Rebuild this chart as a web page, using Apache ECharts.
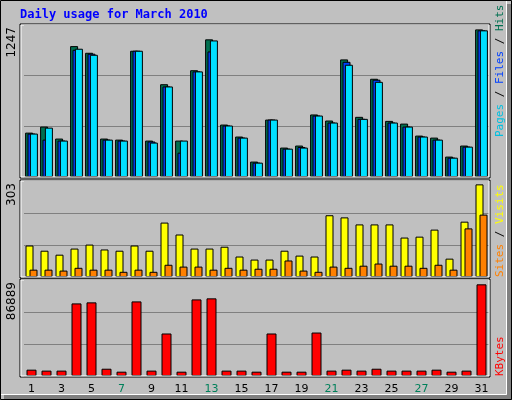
<!DOCTYPE html><html><head><meta charset="utf-8"><script src="https://cdn.jsdelivr.net/npm/echarts@6/dist/echarts.min.js"></script>
<style>html,body{margin:0;padding:0;background:#c0c0c0}#c{width:512px;height:400px}</style></head><body><div id="c"></div><script>
const days=['1','2','3','4','5','6','7','8','9','10','11','12','13','14','15','16','17','18','19','20','21','22','23','24','25','26','27','28','29','30','31'];
const weekend=['6','7','13','14','20','21','27','28'];
const hits=[374,425,324,1103,1047,324,315,1064,307,782,307,900,1160,442,341,130,484,248,265,527,476,991,507,828,473,450,349,332,172,265,1244];
const files=[366,315,307,1072,1039,315,307,1064,299,763,205,890,1058,434,332,121,484,239,253,518,459,971,490,820,459,425,341,315,163,256,1236];
const pages=[366,416,307,1081,1030,315,307,1064,290,763,307,890,1151,434,332,121,484,239,248,518,459,946,490,802,459,425,341,315,163,256,1236];
const visits=[103,86,73,93,106,90,86,103,86,178,139,93,93,99,67,57,57,86,70,67,202,195,172,172,172,129,132,155,60,181,303];
const sites=[24,24,21,30,24,24,17,24,17,40,34,34,24,30,24,27,27,54,21,17,34,30,37,44,37,37,30,40,24,159,204];
const kbytes=[6000,5100,5100,68800,69800,6900,4100,70700,5100,40300,4100,72600,73600,5100,5100,4100,40300,4100,4100,41200,5100,6000,5100,6900,5100,5100,5100,6000,4100,5100,86889];
const topMax=[1247,303,86889];
const M1=1281,M2=314,M3=91000;
const ch=echarts.init(document.getElementById('c'));
const G=[{top:25,h:152},{top:181,h:96},{top:280,h:96}];
const grids=G.map(g=>({left:24,width:465,top:g.top,height:g.h}));
const xAxes=G.map((g,i)=>({type:'category',data:days,gridIndex:i,axisLine:{show:false},axisTick:{show:false},
 axisLabel:{show:i===2,margin:8,fontFamily:'DejaVu Sans',fontSize:11,color:(v)=>weekend.includes(v)?'#00805a':'#000'}}));
const yAxes=[M1,M2,M3].map((m,i)=>({type:'value',gridIndex:i,min:0,max:m,interval:m/3,axisLabel:{show:false},axisLine:{show:false},axisTick:{show:false},splitLine:{lineStyle:{color:'#808080',width:1}}}));
const bs=(d,c,xi,w,gap,z)=>({type:'bar',data:d,xAxisIndex:xi,yAxisIndex:xi,barWidth:w,barGap:gap,itemStyle:{color:c,borderColor:'#000',borderWidth:1},z:z,animation:false,silent:true});
const frames=G.map(g=>({type:'rect',shape:{x:20,y:g.top-1,width:470,height:g.h+2},style:{fill:'none',stroke:'#000',lineWidth:1},z:10}));
const frames2=G.map(g=>({type:'rect',shape:{x:21,y:g.top,width:468,height:g.h},style:{fill:'none',stroke:'#fff',lineWidth:1},z:10}));
const vt=(x,y,t,c)=>({type:'text',x:x,y:y,rotation:Math.PI/2,style:{text:t,fill:c,font:'12px DejaVu Sans',align:'right',verticalAlign:'middle'},z:11});
ch.setOption({backgroundColor:'#c0c0c0',animation:false,grid:grids,xAxis:xAxes,yAxis:yAxes,
 series:[bs(hits,'#007050',0,8,'-70%',2),bs(files,'#0040ff',0,8,'-70%',3),bs(pages,'#00e0ff',0,8,'-70%',4),
  bs(visits,'#ffff00',1,8,'-50%',2),bs(sites,'#ff8000',1,8,'-50%',3),bs(kbytes,'#ff0000',2,10,'0%',2)],
 graphic:[
  {type:'rect',shape:{x:0.5,y:0.5,width:506,height:394},style:{fill:'none',stroke:'#fff',lineWidth:1}},
  {type:'rect',shape:{x:507,y:4,width:5,height:396},style:{fill:'#808080'}},
  {type:'rect',shape:{x:4,y:395,width:508,height:5},style:{fill:'#808080'}},
  {type:'rect',shape:{x:0.5,y:0.5,width:511,height:399},style:{fill:'none',stroke:'#000',lineWidth:1}},
  {type:'text',x:20,y:15,style:{text:'Daily usage for March 2010',fill:'#0000ff',font:'bold 12px DejaVu Sans Mono',verticalAlign:'middle'}},
  ...frames,...frames2,
  vt(12,27,'1247','#000'),vt(12,183,'303','#000'),vt(12,282,'86889','#000'),
  {type:'text',x:500,y:137,rotation:Math.PI/2,style:{rich:{p:{fill:'#00c0e0',font:'11px DejaVu Sans Mono'},f:{fill:'#0040ff',font:'11px DejaVu Sans Mono'},h:{fill:'#007050',font:'11px DejaVu Sans Mono'},s:{fill:'#000',font:'11px DejaVu Sans Mono'}},text:'{p|Pages}{s| / }{f|Files}{s| / }{h|Hits}',align:'left',verticalAlign:'middle'},z:11},
  {type:'text',x:500,y:277,rotation:Math.PI/2,style:{rich:{a:{fill:'#ff8000',font:'11px DejaVu Sans Mono'},v:{fill:'#ffff00',font:'11px DejaVu Sans Mono'},s:{fill:'#000',font:'11px DejaVu Sans Mono'}},text:'{a|Sites}{s| / }{v|Visits}',align:'left',verticalAlign:'middle'},z:11},
  {type:'text',x:500,y:376,rotation:Math.PI/2,style:{text:'KBytes',fill:'#ff0000',font:'11px DejaVu Sans Mono',align:'left',verticalAlign:'middle'},z:11}
 ]});
</script></body></html>
